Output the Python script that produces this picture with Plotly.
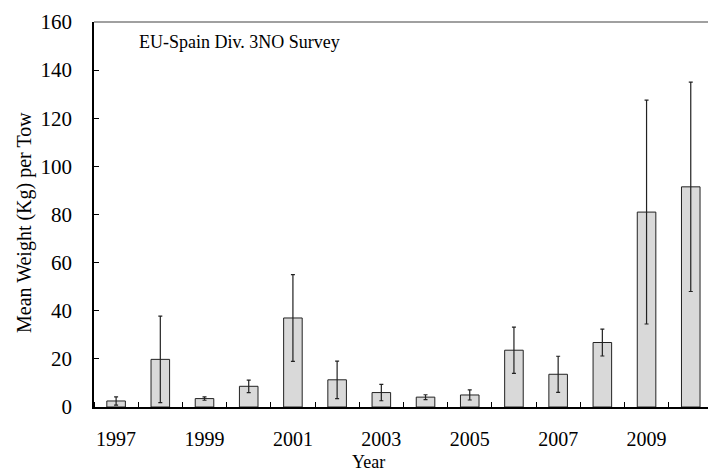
import plotly.graph_objects as go

years = [1997, 1998, 1999, 2000, 2001, 2002, 2003, 2004, 2005, 2006, 2007, 2008, 2009, 2010]
mean_weight = [2.5, 19.8, 3.5, 8.6, 37.0, 11.3, 6.0, 4.1, 5.0, 23.6, 13.6, 26.8, 81.0, 91.5]
error = [1.7, 18.0, 0.7, 2.6, 18.0, 7.8, 3.4, 1.0, 2.1, 9.6, 7.5, 5.6, 46.5, 43.5]
tick_years = [1997, 1999, 2001, 2003, 2005, 2007, 2009]
y_ticks = [0, 20, 40, 60, 80, 100, 120, 140, 160]

serif = "Liberation Serif, Times New Roman, serif"

fig = go.Figure(go.Bar(
    x=years, y=mean_weight, width=0.42,
    marker=dict(color="#d9d9d9", line=dict(color="#222222", width=1)),
    error_y=dict(type="data", array=error, visible=True, color="#222222", thickness=1.2, width=2),
))

fig.update_layout(
    width=708, height=472,
    margin=dict(l=94, r=0, t=22, b=65, autoexpand=False),
    paper_bgcolor="white", plot_bgcolor="white",
    font=dict(family=serif, color="black"),
    showlegend=False,
    xaxis=dict(
        range=[1996.5, 2010.39], tickmode="array", tickvals=tick_years,
        ticktext=[str(y) for y in tick_years], ticks="", showgrid=False,
        showline=True, linecolor="black", linewidth=1.5, zeroline=False,
        tickfont=dict(size=20, family=serif), ticklabelstandoff=13,
        minor=dict(ticks="inside", tick0=1996.5, dtick=1, ticklen=5, tickcolor="black", showgrid=False),
    ),
    yaxis=dict(
        range=[0, 160], tickmode="array", tickvals=y_ticks,
        ticks="inside", ticklen=5, tickcolor="black", showgrid=False,
        showline=True, linecolor="black", linewidth=1.5, zeroline=False,
        tickfont=dict(size=21, family=serif), ticklabelstandoff=16,
    ),
    shapes=[dict(type="line", xref="paper", yref="paper", x0=0, x1=1, y0=1, y1=1,
                 line=dict(color="#808080", width=1.5))],
    annotations=[
        dict(text="EU-Spain Div. 3NO Survey", xref="paper", yref="paper",
             x=(137 - 94) / 614, y=(407 - 42) / 385, xanchor="left", yanchor="middle",
             showarrow=False, font=dict(size=18, family=serif)),
        dict(text="Year", xref="paper", yref="paper",
             x=(368 - 94) / 614, y=-(462 - 407) / 385, xanchor="center", yanchor="middle",
             showarrow=False, font=dict(size=18, family=serif)),
        dict(text="Mean Weight (Kg) per Tow", xref="paper", yref="paper", textangle=-90,
             x=(24 - 94) / 614, y=(407 - 223) / 385, xanchor="center", yanchor="middle",
             showarrow=False, font=dict(size=20, family=serif)),
    ],
)

fig.write_html("out.html", config={"displayModeBar": False},
               post_script="document.body.style.margin='0';")
